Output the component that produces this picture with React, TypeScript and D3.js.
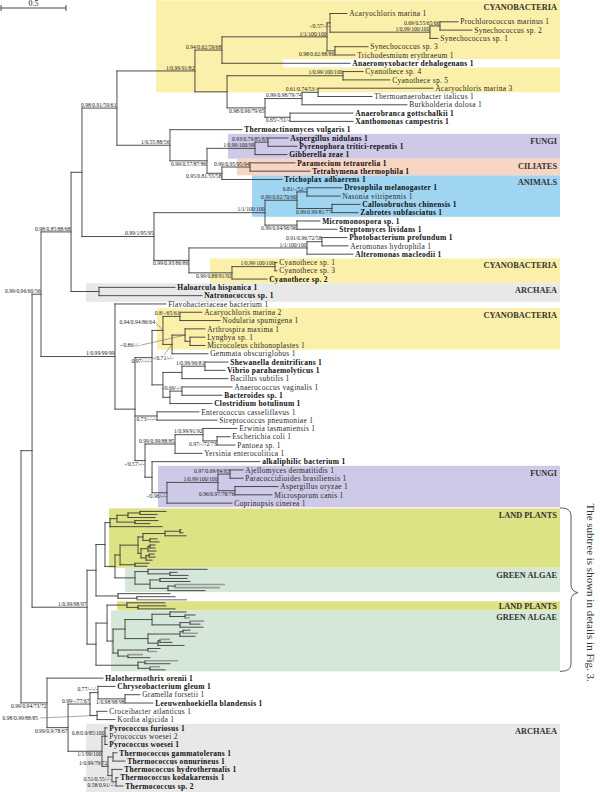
import React, { useMemo } from "react";
import * as d3 from "d3";

// ---------------- DATA ----------------
// Newick-style subtrees. The number after ":" is each node's distance from the root
// (substitutions per site, scale bar = 0.5). "*" = species name set in bold,
// "~" = unnamed grey branch, "#id" = unlabeled clade id, other internal labels = support values.
const cyanoUpper =
  "(((Acaryochloris marina 1:2.508,((Prochlorococcus marinus 1:3.362,Synechococcus sp. 2:3.469)0.69/0.55/65/66:3.223,Synechococcus sp. 1:3.208)1/0.99/100/100:3.146)-/0.57/-/-:2.377,(Synechococcus sp. 3:2.669,Trichodesmium erythraeum 1:2.569)0.98/0.62/88/86:2.415)1/1/100/100:2.354,*Anaeromyxobacter dehalogenans 1:2.531)0.94/0.62/59/68:1.546";
const cyanoLower =
  "((Cyanothece sp. 4:2.631,Cyanothece sp. 5:2.838)1/0.99/100/100:2.477,(((Acaryochloris marina 3:3.169,Thermoanaerobacter italicus 1:2.7)0.61/0.74/53/-:2.285,Burkholderia dolosa 1:2.969)0.99/0.98/79/74:2.162,(*Anaerobranca gottschalkii 1:2.554,*Xanthomonas campestris 1:2.554)0.65/-/51/-:2.069)0.98/0.96/79/65:1.877):1.585";
const eukaryoteClade =
  "(*Thermoactinomyces vulgaris 1:1.7,(((*Aspergillus nidulans 1:2.054,*Pyrenophora tritici-repentis 1:2.123)0.93/0.79/85/83:1.9,*Gibberella zeae 1:2.046)1/0.99/100/99:1.8,((*Paramecium tetraurelia 1:2.108,*Tetrahymena thermophila 1:2.223)0.99/0.95/95/94:1.762,*Trichoplax adhaerens 1:2.008)0.95/0.81/55/58:1.546)0.99/0.57/87/86:1.431)1/0.55/88/56:1.146";
const animalClade =
  "((((*Drosophila melanogaster 1:2.469,Nasonia vitripennis 1:2.454)0.81/-/52/-:2.2,(*Callosobruchus chinensis 1:2.608,*Zabrotes subfasciatus 1:2.592)0.99/0.99/81/77:2.392)0.99/0.92/70/60:2.123,(*Micromonospora sp. 1:2.3,*Streptomyces lividans 1:2.431)0.99/0.94/96/96:2.123)1/1/100/100:1.877,(((*Photobacterium profundum 1:2.508,Aeromonas hydrophila 1:2.515)0.91/0.96/72/58:2.315,*Alteromonas macleodii 1:2.554)1/1/100/100:2.2,((Cyanothece sp. 1:1.969,Cyanothece sp. 3:1.969)1/0.99/100/100:1.954,*Cyanothece sp. 2:1.892)0.99/0.88/91/92:1.623)0.99/0.93/86/86:1.292)0.99/1/95/95:1.023";
const archaeaUpper = "(*Haloarcula hispanica 1:1.185,*Natronococcus sp. 1:1.392):0.6";
const cyanoMiddle =
  "((Acaryochloris marina 2:1.392,Nodularia spumigena 1:1.531)0.8/-/65/61:1.223,((Arthrospira maxima 1:1.415,(Lyngbya sp. 1:1.415,Microcoleus chthonoplastes 1:1.415):1.3)-/0.86/-/-:1.262,Gemmata obscuriglobus 1:1.438)-/0.71/-/-:1.162)0.94/0.94/86/64:1.092";
const firmicutesClade =
  "(((*Shewanella denitrificans 1:1.592,*Vibrio parahaemolyticus 1:1.569)1/0.99/96/81:1.415,Bacillus subtilis 1:1.592):1.238,((Anaerococcus vaginalis 1:1.623,*Bacteroides sp. 1:1.546)-/0.69/-/-:1.238,*Clostridium botulinum 1:1.469):1.146):1.092";
const streptoClade = "(Enterococcus casseliflavus 1:1.369,Streptococcus pneumoniae 1:1.508)0.73/-/-/-:1.046";
const enteroClade =
  "((Erwinia tasmaniensis 1:1.662,(Escherichia coli 1:1.608,Pantoea sp. 1:1.646)0.97/-/72/73:1.508)1/0.99/91/92:1.4,Yersinia enterocolitica 1:1.392)0.99/0.99/88/85:1.185";
const fungiClade =
  "(*alkaliphilic bacterium 1:1.838,(((Ajellomyces dermatitidis 1:1.708,Paracoccidioides brasiliensis 1:1.708)0.97/0.69/84/83:1.608,(Aspergillus oryzae 1:1.977,Microsporum canis 1:1.931)0.96/0.97/78/76:1.646)1/0.99/100/100:1.515,Coprinopsis cinerea 1:1.623)-/0.96/-/-:1.123):1.008";
const plantLP1 = "((((:1.115,:1.046):0.915,:1.031):0.823,(:1.054,:0.992):0.877):0.738,:1.085)#LP1:0.685";
const plantLP2 =
  "(((((:1.231,:1.246):1.223,:1.269):1.108,(:1.046,:1.062):0.992):0.938,(((:1.031,:1.031):0.992,:1.038):0.977,((:1.023,:1.031):0.985,:1.008):0.962):0.923):0.9,(:0.985,:0.969):0.877)#LP2:0.762";
const plantGA1 = "((:1.431,(:1.2,:1.285):1.146):0.977,((:1.277,:1.3):1.069,((~:1.569,~:1.531):1.185,:1.415):1.131):0.992)#GA1:0.877";
const plantPD = "(:1.146,(:1.185,~:1.277):0.892)#PD:0.746";
const plantLP3 = "(:1.108,(:1.115,:1.185):0.9)#LP3:0.815";
const plantGA2 =
  "((((:1.269,(:1.338,~:1.3):1.262):1.146,((~:1.408,:1.377):1.3,:1.4):1.223):1.008,(((:1.3,~:1.362):1.246,:1.338):1.223,((~:1.146,:1.162):1.069,:1.254):1.054):0.977):0.8,((:1.069,~:1.046):0.977,(~:0.938,:0.992):0.823):0.746)#GA2:0.708";
const plantPH = "((~:1.208,:1.146):0.954,(~:1.069,:1.108):0.992)#PH:0.9";
const bottomClade =
  "(*Halothermothrix orenii 1:0.631,(((*Chryseobacterium gleum 1:0.723,(Gramella forsetii 1:0.915,*Leeuwenhoekiella blandensis 1:1.015)1/0.98/98/98:0.8)0.77/-/-/-:0.592,(Croceibacter atlanticus 1:0.662,Kordia algicida 1:0.723)0.98/0.99/88/85:0.585)0.99/-/77/67:0.531,((*Pyrococcus furiosus 1:0.662,Pyrococcus woesei 2:0.662,*Pyrococcus woesei 1:0.662)0.8/0.9/85/100:0.646,((*Thermococcus gammatolerans 1:0.738,*Thermococcus onnurineus 1:0.8):0.708,(*Thermococcus hydrothermalis 1:0.777,(*Thermococcus kodakarensis 1:0.746,*Thermococcus sp. 2:0.785)0.58/0.91/-/-:0.731)0.51/0.55/-/-:0.7)1/0.99/79/72:0.669)1/1/99/100:0.623)0.99/0.9/78/67:0.362)0.99/0.94/73/72:0.2";

const treeG = `(${cyanoUpper},${cyanoLower})1/0.99/91/82:1.338`;
const treeE = `(${treeG},${eukaryoteClade})0.98/0.91/59/61:0.738`;
const treeC = `((${treeE},${animalClade}):0.469,${archaeaUpper})0.98/0.85/88/68:0.385`;
const treeLG = `(Flavobacteriaceae bacterium 1:1.115,((${cyanoMiddle},${firmicutesClade})0.97/-/-/-:1.008,${streptoClade},(${enteroClade},${fungiClade})-/0.57/-/-:0.954):0.877)1/0.99/99/99:0.723`;
const treePL = `(((${plantLP1},(${plantLP2},${plantGA1}):0.723):0.646,${plantPD}):0.577,((${plantLP3},${plantGA2}):0.662,${plantPH}):0.577)1/0.99/98/97:0.508`;
const treeNewick = `(((${treeC},${treeLG})0.99/0.96/60/56:0.154,${treePL}):0.085,${bottomClade}):0`;

// clade shading
const cladeNames = ["CYANOBACTERIA", "FUNGI", "CILIATES", "ANIMALS", "CYANOBACTERIA", "ARCHAEA", "CYANOBACTERIA", "FUNGI", "LAND PLANTS", "GREEN ALGAE", "LAND PLANTS", "GREEN ALGAE", "ARCHAEA"];
const cladeFirst = ["Acaryochloris marina 1", "Aspergillus nidulans 1", "Paramecium tetraurelia 1", "Trichoplax adhaerens 1", "Cyanothece sp. 1", "Haloarcula hispanica 1", "Acaryochloris marina 2", "Ajellomyces dermatitidis 1", "#LP1", "#GA1", "#LP3", "#GA2", "Pyrococcus furiosus 1"];
const cladeLast = ["Acaryochloris marina 3", "Gibberella zeae 1", "Tetrahymena thermophila 1", "Zabrotes subfasciatus 1", "Cyanothece sp. 2", "Natronococcus sp. 1", "Microcoleus chthonoplastes 1", "Coprinopsis cinerea 1", "#LP2", "#GA1", "#LP3", "#PH", "Thermococcus sp. 2"];
const cladeStartDepth = [1.038, 1.592, 1.662, 1.777, 1.454, 0.5, 1.046, 1.054, 0.677, 0.8, 0.738, 0.692, 0.5];
const cladeExcluded = ["Anaeromyxobacter dehalogenans 1"];
const cladeExcludedStart = [2.015];

const scaleBarValue = 0.5;
const noteText = "The subtree is shown in details in Fig. 3.";

// ---------------- STYLE ----------------
const cladeFills = ["#fbf0a9", "#cdc9e6", "#f8d4c3", "#9fd5f1", "#fbf0a9", "#e8e8e8", "#fbf0a9", "#cdc9e6", "#dde284", "#d4e7d8", "#dde284", "#d4e7d8", "#e8e8e8"];
const cladeExtraTop = [9, 0, 0, 0, 0, 0, 0, 0, 1.5, 0, 0, 0, 0];
const cladeExtraBottom = [0, 0, 0, 0, 0, 2, 0, 0, 0, 0, 0, 0, 2];
const labelsBelow = new Set([
  "0.98/0.62/88/86", "-/0.57/-/-", "0.98/0.96/79/65", "0.65/-/51/-", "0.99/0.57/87/86", "0.95/0.81/55/58",
  "0.99/0.99/81/77", "0.99/0.94/96/96", "0.99/0.88/91/92", "0.99/0.93/86/86", "0.97/-/-/-", "0.73/-/-/-",
  "0.97/-/72/73", "0.96/0.97/78/76", "-/0.96/-/-", "0.99/0.94/73/72", "0.99/0.9/78/67", "1/0.98/98/98",
  "1/1/99/100", "0.51/0.55/-/-", "0.58/0.91/-/-",
]);
const leaderLabels: Record<string, { dx: number; dy: number; lx: number; ly: number }> = {
  "0.94/0.94/86/64": { dx: -8, dy: -6.5, lx: -7, ly: -7.5 },
  "-/0.71/-/-": { dx: 1, dy: 15.5, lx: -8, ly: 10.5 },
  "-/0.86/-/-": { dx: -45, dy: 12, lx: -44, ly: 10 },
  "0.98/0.99/88/85": { dx: -59, dy: 5, lx: -57, ly: 2.5 },
};
const PLANT_GAP = 0.367;
const LEAF_FONT = 7.5;
const LEAF_SPACING = 0.3;
const FONT = "'Liberation Serif','Times New Roman',serif";

function parseNewick(src: string) {
  let i = 0;
  const read = (): any => {
    const node: any = { children: [] as any[] };
    if (src[i] === "(") {
      i++;
      node.children.push(read());
      while (src[i] === ",") {
        i++;
        node.children.push(read());
      }
      i++;
    }
    let label = "";
    while (i < src.length && ":,()".indexOf(src[i]) < 0) label += src[i++];
    let num = "";
    if (src[i] === ":") {
      i++;
      while (i < src.length && ",()".indexOf(src[i]) < 0) num += src[i++];
    }
    node.label = label.trim();
    node.depth = num ? parseFloat(num) : 0;
    return node;
  };
  return read();
}

export default function App() {
  const L = useMemo(() => {
    const data = parseNewick(treeNewick);
    const root: any = d3.hierarchy(data, (d: any) => (d.children.length ? d.children : null));
    const leaves: any[] = root.leaves();
    const unnamed = (n: any) => n.data.label === "" || n.data.label === "~";
    const uOf = new Map<any, number>();
    let u = 0;
    leaves.forEach((lf, i) => {
      if (i > 0) u += unnamed(leaves[i - 1]) && unnamed(lf) ? PLANT_GAP : 1;
      uOf.set(lf, u);
    });
    const y = d3.scaleLinear().domain([0, u]).range([13.5, 786]);
    const x = d3.scaleLinear().domain([0, 1]).range([21, 151]);
    root.eachAfter((n: any) => {
      n.px = x(n.data.depth);
      n.py = n.children ? (n.children[0].py + n.children[n.children.length - 1].py) / 2 : y(uOf.get(n) as number);
    });
    const lookup = new Map<string, any>();
    root.descendants().forEach((n: any) => {
      const lab = n.data.label as string;
      if (!n.children && lab && lab !== "~") lookup.set(lab.replace(/^\*/, ""), n);
      if (n.children && lab.startsWith("#")) lookup.set(lab, n);
    });
    const normal = d3.path();
    const grey = d3.path();
    root.descendants().forEach((n: any) => {
      if (n.parent) {
        const p = n.data.label === "~" ? grey : normal;
        p.moveTo(n.parent.px, n.py);
        p.lineTo(n.px, n.py);
      }
      if (n.children) {
        normal.moveTo(n.px, n.children[0].py);
        normal.lineTo(n.px, n.children[n.children.length - 1].py);
      }
    });
    const unit = y(1) - y(0);
    const boxes = cladeNames.map((name, i) => {
      const first = lookup.get(cladeFirst[i]).leaves()[0];
      const lastArr = lookup.get(cladeLast[i]).leaves();
      const last = lastArr[lastArr.length - 1];
      const top = first.py - (unnamed(first) ? (unit * PLANT_GAP) / 2 : unit / 2) - cladeExtraTop[i];
      const bottom = last.py + (unnamed(last) ? (unit * PLANT_GAP) / 2 : unit / 2) + cladeExtraBottom[i];
      return { name, x0: x(cladeStartDepth[i]), top, bottom, fill: cladeFills[i] };
    });
    const cuts = cladeExcluded.map((nm, i) => {
      const n = lookup.get(nm);
      return { x0: x(cladeExcludedStart[i]), top: n.py - unit / 2, bottom: n.py + unit / 2 };
    });
    const plantTop = lookup.get("#LP1").leaves()[0].py;
    const phLeaves = lookup.get("#PH").leaves();
    const plantBottom = phLeaves[phLeaves.length - 1].py;
    return { root, x, normal: normal.toString(), grey: grey.toString(), boxes, cuts, plantTop, plantBottom };
  }, []);

  const nodes: any[] = L.root.descendants();
  const right = 560;
  const barLen = L.x(scaleBarValue) - L.x(0);
  const braceTop = L.plantTop - 3.5;
  const braceBottom = L.plantBottom + 1.5;
  const braceMid = (braceTop + braceBottom) / 2 + 3;
  const bx = 571;
  const brace = `M${right} ${braceTop} C${bx - 4} ${braceTop} ${bx} ${braceTop + 2} ${bx} ${braceTop + 8} L${bx} ${braceMid - 8} C${bx} ${braceMid - 3} ${bx + 3} ${braceMid - 1} ${bx + 7} ${braceMid} C${bx + 3} ${braceMid + 1} ${bx} ${braceMid + 3} ${bx} ${braceMid + 8} L${bx} ${braceBottom - 8} C${bx} ${braceBottom - 2} ${bx - 4} ${braceBottom} ${right} ${braceBottom}`;

  return (
    <div style={{ position: "absolute", left: 0, top: 0 }}>
      <svg width={600} height={792} style={{ display: "block", background: "#fff" }} fontFamily={FONT}>
        {/* clade shading */}
        {L.boxes.map((b: any, i: number) => (
          <rect key={"b" + i} x={b.x0} y={b.top} width={right - b.x0} height={b.bottom - b.top} fill={b.fill} />
        ))}
        {L.cuts.map((c: any, i: number) => (
          <rect key={"c" + i} x={c.x0} y={c.top} width={right - c.x0} height={c.bottom - c.top} fill="#fff" />
        ))}
        {L.boxes.map((b: any, i: number) => (
          <text key={"bl" + i} x={557} y={Math.min(b.top + 7, (b.top + b.bottom) / 2) + 3} fontSize={8.3} fontWeight="bold" textAnchor="end" fill="#333">
            {b.name}
          </text>
        ))}
        {/* branches */}
        <path d={L.normal} stroke="#3a3a3a" strokeWidth={0.9} fill="none" strokeLinecap="square" />
        <path d={L.grey} stroke="#999" strokeWidth={1.6} fill="none" />
        {/* leaf names */}
        {nodes
          .filter((n) => !n.children && n.data.label && n.data.label !== "~")
          .map((n, i) => {
            const bold = n.data.label.startsWith("*");
            return (
              <text
                key={"l" + i}
                x={n.px + 2.2}
                y={n.py + 2.7}
                fontSize={LEAF_FONT}
                letterSpacing={LEAF_SPACING}
                fontWeight={bold ? "bold" : "normal"}
                fill={bold ? "#111" : "#2a2a2a"}
              >
                {n.data.label.replace(/^\*/, "")}
              </text>
            );
          })}
        {/* support values */}
        {nodes
          .filter((n) => n.children && n.data.label && !n.data.label.startsWith("#"))
          .map((n, i) => {
            const lab = n.data.label as string;
            const ld = leaderLabels[lab];
            if (ld) {
              return (
                <g key={"s" + i}>
                  <line x1={n.px + ld.lx} y1={n.py + ld.ly} x2={n.px} y2={n.py} stroke="#555" strokeWidth={0.5} />
                  <text x={n.px + ld.dx} y={n.py + ld.dy} fontSize={5.6} textAnchor="end" fill="#222">
                    {lab}
                  </text>
                </g>
              );
            }
            const below = labelsBelow.has(lab);
            return (
              <text key={"s" + i} x={n.px - 0.5} y={below ? n.py + 5 : n.py - 1.3} fontSize={5.6} textAnchor="end" fill="#222">
                {lab}
              </text>
            );
          })}
        {/* scale bar */}
        <g stroke="#333" strokeWidth={0.9}>
          <line x1={1} x2={1 + barLen} y1={8} y2={8} />
          <line x1={1} x2={1} y1={5} y2={11} />
          <line x1={1 + barLen} x2={1 + barLen} y1={5} y2={11} />
        </g>
        <text x={1 + barLen / 2} y={6.3} fontSize={8} textAnchor="middle" fill="#222">
          {String(scaleBarValue)}
        </text>
        {/* subtree note */}
        <path d={brace} stroke="#444" strokeWidth={0.9} fill="none" />
        <text transform={`translate(587, ${braceMid}) rotate(90)`} fontSize={11} textAnchor="middle" fill="#333">
          {noteText}
        </text>
      </svg>
    </div>
  );
}
